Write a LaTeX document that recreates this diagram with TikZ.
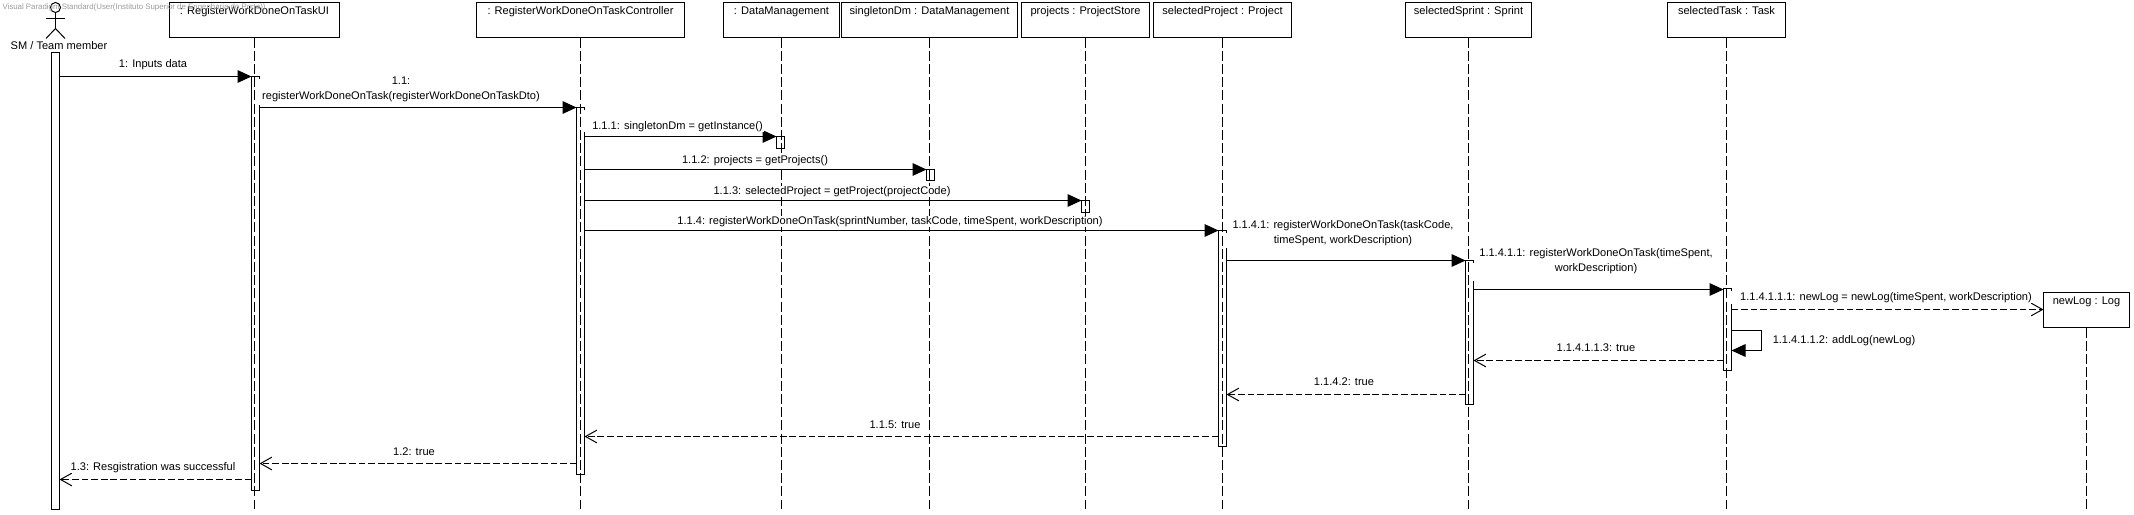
\documentclass[tikz,border=0pt]{standalone}
\usepackage{fontspec}
\setmainfont{Liberation Sans}
\usetikzlibrary{arrows.meta}
\definecolor{markgray}{HTML}{9A9A9A}

\begin{document}
\begin{tikzpicture}[
    x=0.75pt, y=-0.75pt, % 1 unit is one pixel, (0,0) at top left
    line width=0.75pt,
    every node/.style={font=\fontsize{8.3}{10.8}\selectfont},
    objbox/.style={draw, anchor=north, inner ysep=0pt, inner xsep=0pt, outer sep=0pt, text height=9pt, text depth=17.25pt},
    bar/.style={draw, fill=white, anchor=north, minimum width=6pt, inner sep=0pt, outer sep=0pt},
    lifeline/.style={dash pattern=on 7.5pt off 2.4pt},
    call/.style={-{Triangle[length=10.5pt,width=9.5pt]}},
    reply/.style={-{Straight Barb[length=8.5pt,width=9.5pt]}, dash pattern=on 5pt off 2.2pt},
    msg/.style={fill=white, inner xsep=1pt, inner ysep=0.5pt, align=center, yshift=-0.75pt}
]
\useasboundingbox (0,0) rectangle (2134,514);
\begin{scope}[yshift=-0.375pt] % keeps the thin lines on pixel rows

% activation bars
\foreach \name/\xc/\ytop/\ybot in {actorBar/55.5/52/509, uiBar/255.5/76/490, ctrlBar/580.5/107/474,
    dmBar/780.5/136/148, singletonBar/930.5/169/180, storeBar/1085.5/200/212,
    projectBar/1222.5/230/446, sprintBar/1469.5/260/404, taskBar/1727.5/288/370} {
    \node[bar, minimum height={(\ybot-\ytop)*0.75pt}] (\name) at (\xc,\ytop) {};
}

% objects and their lifelines
\foreach \name/\lbl/\xc/\bw in {uiBox/{: RegisterWorkDoneOnTaskUI}/254.5/170, ctrlBox/{: RegisterWorkDoneOnTaskController}/580.5/208,
    dmBox/{: DataManagement}/781.5/116, singletonBox/{singletonDm : DataManagement}/929.5/176,
    storeBox/{projects : ProjectStore}/1085.5/128, projectBox/{selectedProject : Project}/1222.5/138,
    sprintBox/{selectedSprint : Sprint}/1468.5/126, taskBox/{selectedTask : Task}/1726.5/118} {
    \node[objbox, minimum width={\bw*0.75pt}] (\name) at (\xc,2) {\lbl};
    \draw[lifeline] (\name.south) -- (\name.south |- 0,508);
}
\node[objbox, minimum width=64.5pt] (logBox) at (2086.5,292) {newLog : Log};
\draw[lifeline] (logBox.south) -- (logBox.south |- 0,510);

% actor
\node[draw, circle, minimum size=7.5pt, inner sep=0pt] (actorHead) at (55.5,7) {};
\draw (actorHead.south) -- (55.5,28) coordinate (actorHip);
\draw (46,18) coordinate (actorHandL) -- (65,18) coordinate (actorHandR);
\draw (46,38) coordinate (actorFootL) -- (actorHip) -- (65,38) coordinate (actorFootR);
\node (actorLabel) at (59,45) {SM / Team member};

% the labels hide the right edge of the bars here
\foreach \name/\ya/\yb in {uiBar/78/104, ctrlBar/109/131, projectBar/232/247, sprintBar/262/280, taskBar/290/303} {
    \fill[white] ([xshift=-1pt]\name.east |- 0,\ya) rectangle ([xshift=1pt]\name.east |- 0,\yb);
}

% messages
\draw[call] (actorBar.east |- 0,76) -- (uiBar.west |- 0,76);
\draw[call] (uiBar.east |- 0,107) -- (ctrlBar.west |- 0,107);
\draw[call] (ctrlBar.east |- 0,136) -- (dmBar.west |- 0,136);
\draw[call] (ctrlBar.east |- 0,169) -- (singletonBar.west |- 0,169);
\draw[call] (ctrlBar.east |- 0,200) -- (storeBar.west |- 0,200);
\draw[call] (ctrlBar.east |- 0,230) -- (projectBar.west |- 0,230);
\draw[call] (projectBar.east |- 0,260) -- (sprintBar.west |- 0,260);
\draw[call] (sprintBar.east |- 0,289) -- (taskBar.west |- 0,289);
\draw[reply] (taskBar.east |- 0,309) -- (logBox.west |- 0,309);
\coordinate (selfTop) at (1761.5,330);
\coordinate (selfBot) at (1761.5,350);
\draw[call] (taskBar.east |- selfTop) -- (selfTop) -- (selfBot) -- (taskBar.east |- selfBot);
\draw[reply] (taskBar.west |- 0,360) -- (sprintBar.east |- 0,360);
\draw[reply] (sprintBar.west |- 0,394) -- (projectBar.east |- 0,394);
\draw[reply] (projectBar.west |- 0,436) -- (ctrlBar.east |- 0,436);
\draw[reply] (ctrlBar.west |- 0,463) -- (uiBar.east |- 0,463);
\draw[reply] (uiBar.west |- 0,479) -- (actorBar.east |- 0,479);

% message labels
\node[msg] (lblInputs) at (153,63) {1: Inputs data};
\node[msg] (lblRegister) at (401,88) {1.1:\\registerWorkDoneOnTask(registerWorkDoneOnTaskDto)};
\node[msg] (lblInstance) at (677.5,125) {1.1.1: singletonDm = getInstance()};
\node[msg] (lblProjects) at (755,159) {1.1.2: projects = getProjects()};
\node[msg] (lblProject) at (832,190) {1.1.3: selectedProject = getProject(projectCode)};
\node[msg] (lblOnProject) at (890,220) {1.1.4: registerWorkDoneOnTask(sprintNumber, taskCode, timeSpent, workDescription)};
\node[msg] (lblOnSprint) at (1343,231.5) {1.1.4.1: registerWorkDoneOnTask(taskCode,\\timeSpent, workDescription)};
\node[msg] (lblOnTask) at (1596,259.5) {1.1.4.1.1: registerWorkDoneOnTask(timeSpent,\\workDescription)};
\node[msg] (lblNewLog) at (1886,296) {1.1.4.1.1.1: newLog = newLog(timeSpent, workDescription)};
\node[msg] (lblAddLog) at (1844,339) {1.1.4.1.1.2: addLog(newLog)};
\node[msg] (lblTaskTrue) at (1596,346) {1.1.4.1.1.3: true};
\node[msg] (lblSprintTrue) at (1344,380) {1.1.4.2: true};
\node[msg] (lblProjectTrue) at (895,423) {1.1.5: true};
\node[msg] (lblCtrlTrue) at (414,450) {1.2: true};
\node[msg] (lblDone) at (153,466) {1.3: Resgistration was successful};

\node[anchor=west, inner sep=0pt, text=markgray, font=\fontsize{5.9}{7}\selectfont] (watermark) at (2,7)
    {Visual Paradigm Standard(User(Instituto Superior de Engenharia do Porto))};
\end{scope}
\end{tikzpicture}
\end{document}
